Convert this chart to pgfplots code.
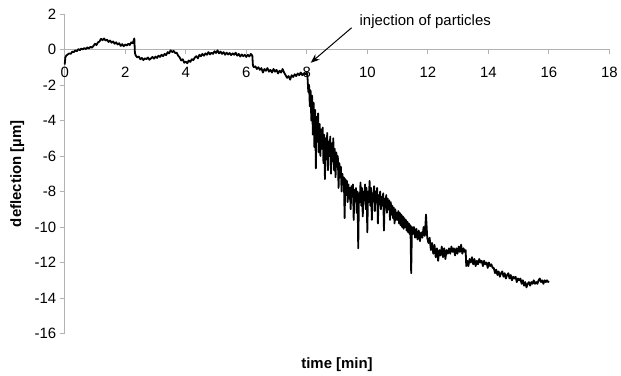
\documentclass[border=0pt]{standalone}
\usepackage{fontspec}
\setmainfont{Liberation Sans}
\usepackage{pgfplots}
\usepackage{pgfplotstable}
\pgfplotsset{compat=1.18}
\usetikzlibrary{arrows.meta,calc}
\newcommand\ff{\fontsize{15}{18}\selectfont}
\pgfplotstableread{
x y
0 -0.85
0.02 -0.45
0.05 -0.35
0.1 -0.28
0.15 -0.22
0.2 -0.25
0.25 -0.12
0.3 -0.15
0.35 -0.05
0.4 -0.1
0.45 0.02
0.5 -0.04
0.55 0.05
0.6 0.0
0.65 0.08
0.7 0.02
0.75 0.12
0.8 0.05
0.85 0.15
0.9 0.1
0.95 0.2
1.0 0.32
1.05 0.25
1.1 0.4
1.15 0.45
1.2 0.6
1.25 0.52
1.3 0.62
1.35 0.5
1.4 0.55
1.45 0.42
1.5 0.5
1.55 0.38
1.6 0.45
1.65 0.32
1.7 0.4
1.75 0.28
1.8 0.35
1.85 0.2
1.9 0.3
1.95 0.18
2.0 0.28
2.05 0.22
2.1 0.32
2.15 0.25
2.2 0.4
2.25 0.35
2.3 0.62
2.32 -0.2
2.35 -0.35
2.4 -0.45
2.45 -0.4
2.5 -0.55
2.55 -0.48
2.6 -0.6
2.65 -0.5
2.7 -0.55
2.75 -0.45
2.8 -0.58
2.85 -0.5
2.9 -0.42
2.95 -0.52
3.0 -0.4
3.05 -0.48
3.1 -0.35
3.15 -0.42
3.2 -0.3
3.25 -0.38
3.3 -0.25
3.35 -0.32
3.4 -0.15
3.45 -0.22
3.5 -0.05
3.55 -0.15
3.6 -0.08
3.65 -0.2
3.7 -0.18
3.75 -0.35
3.8 -0.45
3.85 -0.62
3.9 -0.55
3.95 -0.75
4.0 -0.68
4.05 -0.78
4.1 -0.62
4.15 -0.7
4.2 -0.55
4.25 -0.6
4.3 -0.45
4.35 -0.38
4.4 -0.5
4.45 -0.3
4.5 -0.38
4.55 -0.25
4.6 -0.35
4.65 -0.22
4.7 -0.3
4.75 -0.15
4.8 -0.28
4.85 -0.18
4.9 -0.25
4.95 -0.1
5.0 -0.2
5.05 -0.05
5.1 -0.22
5.15 -0.12
5.2 -0.25
5.25 -0.15
5.3 -0.3
5.35 -0.18
5.4 -0.28
5.45 -0.2
5.5 -0.32
5.55 -0.22
5.6 -0.3
5.65 -0.18
5.7 -0.35
5.75 -0.25
5.8 -0.4
5.85 -0.28
5.9 -0.38
5.95 -0.3
6.0 -0.42
6.05 -0.3
6.1 -0.4
6.15 -0.25
6.2 -0.35
6.22 -0.9
6.25 -1.0
6.3 -0.95
6.35 -1.1
6.4 -1.0
6.45 -1.15
6.5 -1.05
6.55 -1.3
6.6 -1.1
6.65 -1.2
6.7 -1.05
6.75 -1.25
6.8 -1.15
6.85 -1.3
6.9 -1.1
6.95 -1.25
7.0 -1.15
7.05 -1.35
7.1 -1.2
7.15 -1.3
7.2 -1.1
7.25 -1.3
7.3 -1.45
7.35 -1.6
7.4 -1.5
7.45 -1.7
7.5 -1.45
7.55 -1.55
7.6 -1.4
7.65 -1.5
7.7 -1.35
7.75 -1.45
7.8 -1.3
7.85 -1.45
7.9 -1.35
7.95 -1.4
8.0 -1.3
8.025 -1.6
8.05 -2.4
8.075 -2.0
8.1 -3.2
8.125 -2.3
8.15 -4.0
8.175 -2.6
8.2 -4.8
8.225 -3.0
8.25 -5.5
8.275 -3.4
8.3 -6.7
8.325 -3.8
8.35 -5.2
8.375 -3.6
8.4 -5.8
8.425 -4.2
8.45 -6.0
8.475 -4.5
8.5 -5.6
8.525 -4.4
8.55 -6.4
8.575 -4.8
8.6 -7.3
8.625 -5.0
8.65 -6.2
8.675 -4.7
8.7 -6.8
8.725 -5.2
8.75 -6.0
8.775 -4.9
8.8 -7.0
8.825 -5.3
8.85 -6.3
8.875 -5.0
8.9 -6.8
8.925 -5.6
8.95 -7.2
8.975 -5.8
9.0 -6.6
9.025 -6.0
9.05 -7.8
9.075 -6.4
9.1 -7.2
9.125 -6.6
9.15 -8.0
9.175 -7.0
9.2 -7.6
9.225 -7.2
9.25 -9.5
9.275 -7.3
9.3 -8.2
9.325 -7.4
9.35 -8.6
9.375 -7.6
9.4 -8.4
9.425 -7.8
9.45 -9.0
9.475 -7.7
9.5 -8.3
9.525 -7.6
9.55 -9.6
9.575 -7.9
9.6 -8.4
9.625 -7.8
9.65 -9.2
9.675 -8.0
9.7 -11.2
9.725 -8.1
9.75 -8.6
9.775 -7.5
9.8 -8.8
9.825 -7.8
9.85 -9.4
9.875 -8.0
9.9 -8.5
9.925 -7.6
9.95 -9.0
9.975 -7.8
10.0 -10.3
10.025 -8.0
10.05 -8.6
10.075 -7.4
10.1 -8.8
10.125 -7.8
10.15 -9.6
10.175 -8.1
10.2 -8.5
10.225 -7.7
10.25 -9.1
10.275 -8.0
10.3 -8.6
10.325 -7.8
10.35 -9.8
10.375 -8.2
10.4 -8.7
10.425 -8.0
10.45 -9.0
10.475 -8.3
10.5 -8.8
10.525 -8.1
10.55 -10.2
10.575 -8.4
10.6 -8.9
10.625 -8.2
10.65 -9.2
10.675 -8.4
10.7 -9.0
10.725 -8.5
10.75 -9.6
10.775 -8.6
10.8 -9.3
10.825 -8.8
10.85 -9.5
10.875 -8.9
10.9 -9.8
10.925 -9.0
10.95 -9.6
10.975 -9.2
11.0 -9.6
11.025 -9.1
11.05 -9.8
11.075 -9.2
11.1 -9.9
11.125 -9.3
11.15 -10.0
11.175 -9.4
11.2 -10.1
11.225 -9.5
11.25 -10.0
11.275 -9.6
11.3 -10.2
11.325 -9.7
11.35 -10.3
11.375 -9.8
11.4 -10.4
11.425 -9.9
11.45 -12.6
11.475 -10.0
11.5 -10.4
11.54 -10.0
11.58 -10.6
11.62 -10.1
11.66 -10.7
11.7 -10.2
11.74 -10.8
11.78 -10.3
11.82 -10.6
11.86 -10.0
11.9 -10.5
11.94 -9.3
11.98 -10.6
12.02 -10.9
12.06 -10.6
12.1 -11.3
12.14 -10.9
12.18 -11.5
12.22 -11.0
12.26 -11.7
12.3 -11.2
12.34 -11.9
12.38 -11.3
12.42 -11.6
12.46 -11.1
12.5 -11.7
12.54 -11.2
12.58 -11.8
12.62 -11.3
12.66 -11.5
12.7 -11.2
12.74 -11.5
12.78 -11.1
12.82 -11.4
12.86 -11.2
12.9 -11.6
12.94 -11.2
12.98 -11.5
13.02 -11.1
13.06 -11.4
13.1 -11.0
13.14 -11.5
13.18 -11.2
13.22 -11.4
13.25 -11.3
13.27 -12.2
13.3 -11.9
13.34 -12.2
13.38 -11.8
13.42 -12.0
13.46 -11.7
13.5 -12.1
13.54 -11.8
13.58 -12.2
13.62 -11.9
13.66 -12.1
13.7 -11.8
13.74 -12.0
13.78 -11.9
13.82 -12.2
13.86 -11.9
13.9 -12.1
13.94 -12.0
13.98 -12.3
14.02 -12.0
14.06 -12.2
14.1 -12.1
14.14 -12.3
14.18 -12.3
14.22 -12.6
14.26 -12.4
14.3 -12.7
14.34 -12.5
14.38 -12.8
14.42 -12.6
14.46 -12.5
14.5 -12.8
14.54 -12.6
14.58 -12.9
14.62 -12.7
14.66 -12.6
14.7 -12.9
14.74 -12.7
14.78 -13.0
14.82 -12.8
14.86 -12.9
14.9 -12.8
14.94 -13.1
14.98 -12.9
15.02 -13.0
15.06 -12.9
15.1 -13.2
15.14 -13.0
15.18 -13.3
15.22 -13.1
15.26 -13.4
15.3 -13.2
15.34 -13.1
15.38 -13.3
15.42 -13.1
15.46 -13.2
15.5 -13.0
15.54 -13.2
15.58 -13.1
15.62 -13.2
15.66 -13.0
15.7 -12.9
15.74 -13.1
15.78 -13.0
15.82 -13.2
15.86 -13.0
15.9 -13.1
15.94 -13.0
15.98 -13.1
16.0 -13.05
}\deflection
\begin{document}
\begin{tikzpicture}
\begin{axis}[
  scale only axis,
  width=547pt, height=321pt,
  xmin=0, xmax=18, ymin=-16, ymax=2,
  xtick={0,2,...,18}, ytick={-16,-14,...,2},
  axis x line=middle, axis y line=left,
  hide obscured x ticks=false, hide obscured y ticks=false,
  axis line style={-, draw=gray!60, line width=0.8pt},
  every inner x axis line/.append style={-},
  every outer y axis line/.append style={-},
  every inner y axis line/.append style={-},
  tick style={draw=gray!60, line width=0.8pt},
  tick align=outside,
  major tick length=5pt,
  /pgf/number format/assume math mode=true,
  ticklabel style={font=\ff, text=black},
  xticklabel style={yshift=-9pt},
  label style={font=\ff\bfseries},
  xlabel={time [min]},
  ylabel={deflection [µm]},
  xlabel style={at={(axis description cs:0.5,0)}, anchor=north, yshift=-21pt},
  ylabel style={at={(axis description cs:-0.068,0.5)}, anchor=south, rotate=0},
  clip=false,
]
\addplot[black, line width=1.8pt, line join=round, no markers] table[x=x,y=y] {\deflection};
\node[anchor=west, font=\ff, inner sep=0pt] at (axis cs:9.74,1.55) {injection of particles};
\draw[-{Stealth[length=9pt,width=7pt]}, line width=1pt] (axis cs:9.48,1.22) -- (axis cs:8.13,-0.75);
\end{axis}
\path ($(current axis.south west)+(-65pt,-39pt)$) rectangle ($(current axis.north east)+(9pt,14pt)$);
\end{tikzpicture}
\end{document}
